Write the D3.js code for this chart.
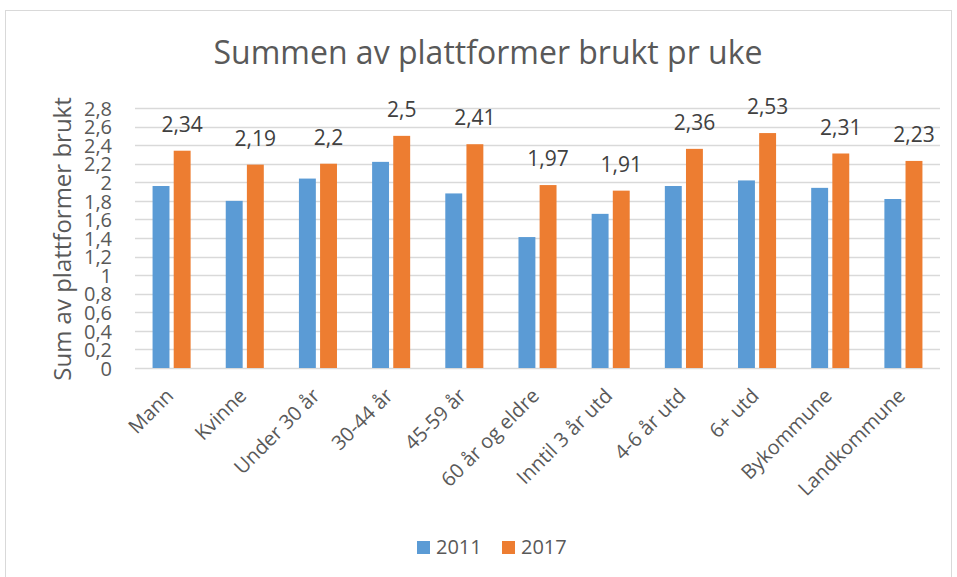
<!DOCTYPE html>
<html>
<head>
<meta charset="utf-8">
<script src="https://cdn.jsdelivr.net/npm/d3@7"></script>
<style>
  html, body { margin: 0; padding: 0; background: #fff; }
  svg { display: block; }
  svg text { font-family: "Open Sans", Lato, sans-serif; }
</style>
</head>
<body>
<svg id="chart" width="957" height="577"></svg>
<script>
// Categories and series
const categories = ["Mann", "Kvinne", "Under 30 år", "30-44 år", "45-59 år", "60 år og eldre",
  "Inntil 3 år utd", "4-6 år utd", "6+ utd", "Bykommune", "Landkommune"];
const seriesNames = ["2011", "2017"];
const values2011 = [1.96, 1.80, 2.04, 2.22, 1.88, 1.41, 1.66, 1.96, 2.02, 1.94, 1.82];
const values2017 = [2.34, 2.19, 2.2, 2.5, 2.41, 1.97, 1.91, 2.36, 2.53, 2.31, 2.23];
const yTicks = [0, 0.2, 0.4, 0.6, 0.8, 1, 1.2, 1.4, 1.6, 1.8, 2, 2.2, 2.4, 2.6, 2.8];

const title = "Summen av plattformer brukt pr uke";
const yTitle = "Sum av plattformer brukt";
const colors = { "2011": "#5B9BD5", "2017": "#ED7D31" };
const textColor = "#595959";
const fontFamily = '"Open Sans", Lato, sans-serif';

const svg = d3.select("#chart");
const plot = { left: 135, right: 940, top: 108, bottom: 368 };

// Chart frame
svg.append("rect")
  .attr("x", 5.5).attr("y", 10.5)
  .attr("width", 946).attr("height", 570)
  .attr("fill", "#fff").attr("stroke", "#d9d9d9").attr("stroke-width", 1);

const fmt = v => String(Math.round(v * 100) / 100).replace(".", ",");

const y = d3.scaleLinear().domain([0, 2.8]).range([plot.bottom, plot.top]);
const x0 = d3.scaleBand().domain(categories).range([plot.left, plot.right]).paddingInner(0.48).paddingOuter(0.24);
const x1 = d3.scaleBand().domain(seriesNames).range([0, x0.bandwidth()]).paddingInner(0.2);

// Gridlines
svg.append("g")
  .selectAll("line")
  .data(yTicks)
  .join("line")
  .attr("x1", plot.left).attr("x2", plot.right)
  .attr("y1", d => Math.round(y(d)) + 0.5).attr("y2", d => Math.round(y(d)) + 0.5)
  .attr("stroke", "#d9d9d9").attr("stroke-width", 1.3);

// Y axis tick labels
const yAxis = d3.axisLeft(y).tickValues(yTicks).tickFormat(fmt).tickSize(0).tickPadding(0);
const gy = svg.append("g").attr("transform", `translate(${plot.left - 23},0)`).call(yAxis)
  .attr("font-family", fontFamily);
gy.select(".domain").remove();
gy.selectAll("text")
  .attr("fill", textColor)
  .style("font-size", "20px")
  .attr("dy", "0.36em");

// Bars
const data = categories.map((c, i) => ({ cat: c, vals: [
  { key: "2011", v: values2011[i] },
  { key: "2017", v: values2017[i] }
]}));

const groups = svg.append("g").selectAll("g")
  .data(data)
  .join("g")
  .attr("transform", d => `translate(${x0(d.cat)},0)`);

groups.selectAll("rect")
  .data(d => d.vals)
  .join("rect")
  .attr("x", d => x1(d.key))
  .attr("width", x1.bandwidth())
  .attr("y", d => y(d.v))
  .attr("height", d => y(0) - y(d.v))
  .attr("fill", d => colors[d.key]);

// Value labels on the 2017 bars
groups.append("text")
  .attr("x", x1("2017") + x1.bandwidth() / 2)
  .attr("y", d => y(d.vals[1].v) - 19)
  .attr("text-anchor", "middle")
  .attr("fill", "#404040")
  .style("font-size", "21px")
  .text(d => fmt(d.vals[1].v));

// X axis category labels, rotated
const xAxis = d3.axisBottom(x0).tickSize(0).tickPadding(0);
const gx = svg.append("g").attr("transform", `translate(0,${plot.bottom})`).call(xAxis)
  .attr("font-family", fontFamily);
gx.select(".domain").remove();
gx.selectAll("text")
  .attr("fill", textColor)
  .style("font-size", "20px")
  .attr("text-anchor", "end")
  .attr("dy", null)
  .attr("transform", "translate(3,29) rotate(-45)");

// Title
svg.append("text")
  .attr("x", 488).attr("y", 64)
  .attr("text-anchor", "middle")
  .attr("fill", textColor)
  .style("font-size", "32px")
  .text(title);

// Y axis title
svg.append("text")
  .attr("transform", `translate(71,${(plot.top + plot.bottom) / 2 + 1}) rotate(-90)`)
  .attr("text-anchor", "middle")
  .attr("fill", textColor)
  .style("font-size", "24px")
  .text(yTitle);

// Legend
const legend = svg.append("g").attr("transform", "translate(417,541)");
const items = legend.selectAll("g")
  .data(seriesNames)
  .join("g")
  .attr("transform", (d, i) => `translate(${i * 85},0)`);
items.append("rect")
  .attr("width", 13).attr("height", 13)
  .attr("fill", d => colors[d]);
items.append("text")
  .attr("x", 19).attr("y", 13)
  .attr("fill", textColor)
  .style("font-size", "20px")
  .text(d => d);
</script>
</body>
</html>
